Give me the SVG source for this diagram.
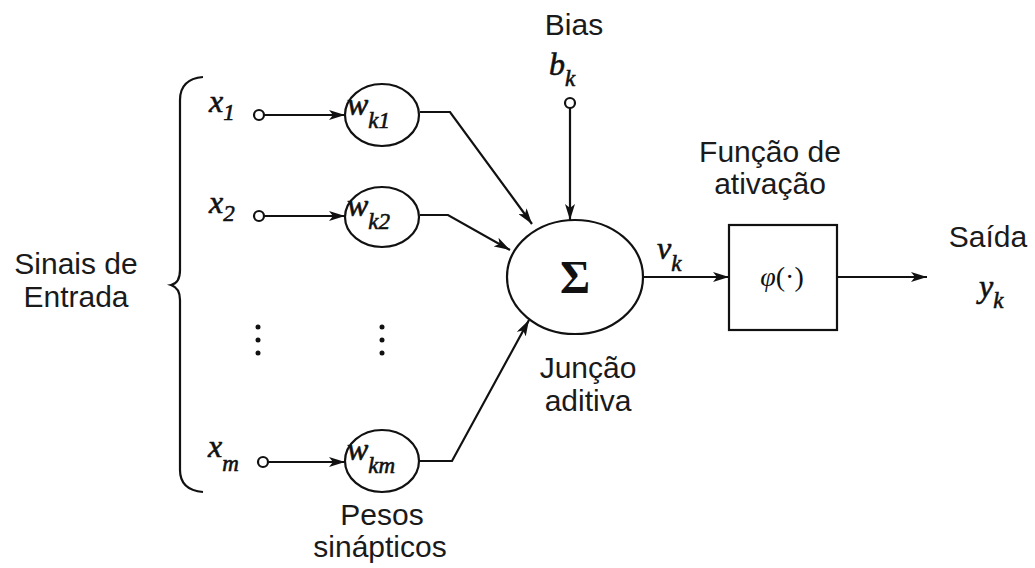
<svg xmlns="http://www.w3.org/2000/svg" width="1035" height="568" viewBox="0 0 1035 568">
<style>
.lbl{font-family:"Liberation Sans",Arial,sans-serif;font-size:30px;fill:#1a1a1a;text-anchor:middle}
.m{font-family:"Liberation Serif","Times New Roman",serif;font-style:italic;font-size:32px;fill:#111;stroke:#111;stroke-width:0.6}
.s{font-size:23px}
.ln{stroke:#111;stroke-width:2.2;fill:none}
.nd{stroke:#111;stroke-width:2.2;fill:#fff}
</style>
<defs>
<marker id="ah" viewBox="0 0 16 10" refX="16" refY="5" markerWidth="16" markerHeight="10" markerUnits="userSpaceOnUse" orient="auto">
<path d="M0,0 L16,5 L0,10 L4,5 Z" fill="#111"/>
</marker>
</defs>
<rect width="1035" height="568" fill="#fff"/>

<g id="brace">
<path class="ln" d="M203,77 Q180,79 180,100 L180,270 Q180,283 171,285 Q180,288 180,300 L180,470 Q180,490 203,492"/>
</g>

<g id="labels">
<text class="lbl" x="76" y="274">Sinais de</text>
<text class="lbl" x="76" y="307">Entrada</text>
<text class="lbl" x="574" y="35">Bias</text>
<text class="lbl" x="770" y="162">Função de</text>
<text class="lbl" x="770" y="194">ativação</text>
<text class="lbl" x="988" y="247">Saída</text>
<text class="lbl" x="588" y="378">Junção</text>
<text class="lbl" x="588" y="411">aditiva</text>
<text class="lbl" x="382" y="525">Pesos</text>
<text class="lbl" x="380" y="557">sinápticos</text>
</g>

<g id="connectors">
<line class="ln" x1="264" y1="115" x2="345" y2="115" marker-end="url(#ah)"/>
<line class="ln" x1="264" y1="216" x2="345" y2="216" marker-end="url(#ah)"/>
<line class="ln" x1="268" y1="462" x2="345" y2="462" marker-end="url(#ah)"/>
<polyline class="ln" points="420,112 450,112 532,224" marker-end="url(#ah)"/>
<polyline class="ln" points="420,215 448,215 510,250" marker-end="url(#ah)"/>
<polyline class="ln" points="420,461 452,461 529,320" marker-end="url(#ah)"/>
<line class="ln" x1="570" y1="108" x2="570" y2="220" marker-end="url(#ah)"/>
<line class="ln" x1="643" y1="277" x2="729" y2="277" marker-end="url(#ah)"/>
<line class="ln" x1="837" y1="277" x2="927" y2="277" marker-end="url(#ah)"/>
</g>

<g id="x1"><circle class="nd" cx="259" cy="115" r="5"/><text class="m" x="209" y="112">x<tspan class="s" dy="8">1</tspan></text></g>
<g id="x2"><circle class="nd" cx="259" cy="216" r="5"/><text class="m" x="209" y="213">x<tspan class="s" dy="8">2</tspan></text></g>
<g id="xm"><circle class="nd" cx="263" cy="462" r="5"/><text class="m" x="208" y="457">x<tspan class="s" dy="14">m</tspan></text></g>

<g id="dots" fill="#111">
<circle cx="258" cy="327" r="2.5"/><circle cx="258" cy="340" r="2.5"/><circle cx="258" cy="353" r="2.5"/>
<circle cx="382" cy="327" r="2.5"/><circle cx="382" cy="340" r="2.5"/><circle cx="382" cy="353" r="2.5"/>
</g>

<g id="wk1"><ellipse class="nd" cx="382" cy="115" rx="37" ry="31"/><text class="m" x="347" y="115">w<tspan class="s" dy="13">k1</tspan></text></g>
<g id="wk2"><ellipse class="nd" cx="382" cy="217" rx="37" ry="30"/><text class="m" x="347" y="216">w<tspan class="s" dy="13">k2</tspan></text></g>
<g id="wkm"><ellipse class="nd" cx="382" cy="461" rx="37" ry="31"/><text class="m" x="347" y="460">w<tspan class="s" dy="13">km</tspan></text></g>

<g id="bias"><circle class="nd" cx="570" cy="103" r="5"/><text class="m" x="549" y="75">b<tspan class="s" dy="11">k</tspan></text></g>

<g id="sum"><ellipse class="nd" cx="575" cy="277" rx="68" ry="57"/><text x="575" y="293" text-anchor="middle" font-family="Liberation Serif,serif" font-weight="bold" font-size="46" fill="#111">Σ</text></g>
<g id="vk"><text class="m" x="657" y="259">v<tspan class="s" dy="12">k</tspan></text></g>

<g id="phi"><rect class="nd" x="729" y="225" width="108" height="105"/><text x="782" y="286" text-anchor="middle" font-family="Liberation Serif,serif" font-size="28" fill="#111"><tspan font-style="italic">φ</tspan>(·)</text></g>

<g id="yk"><text class="m" x="979" y="297">y<tspan class="s" dy="11">k</tspan></text></g>
</svg>
